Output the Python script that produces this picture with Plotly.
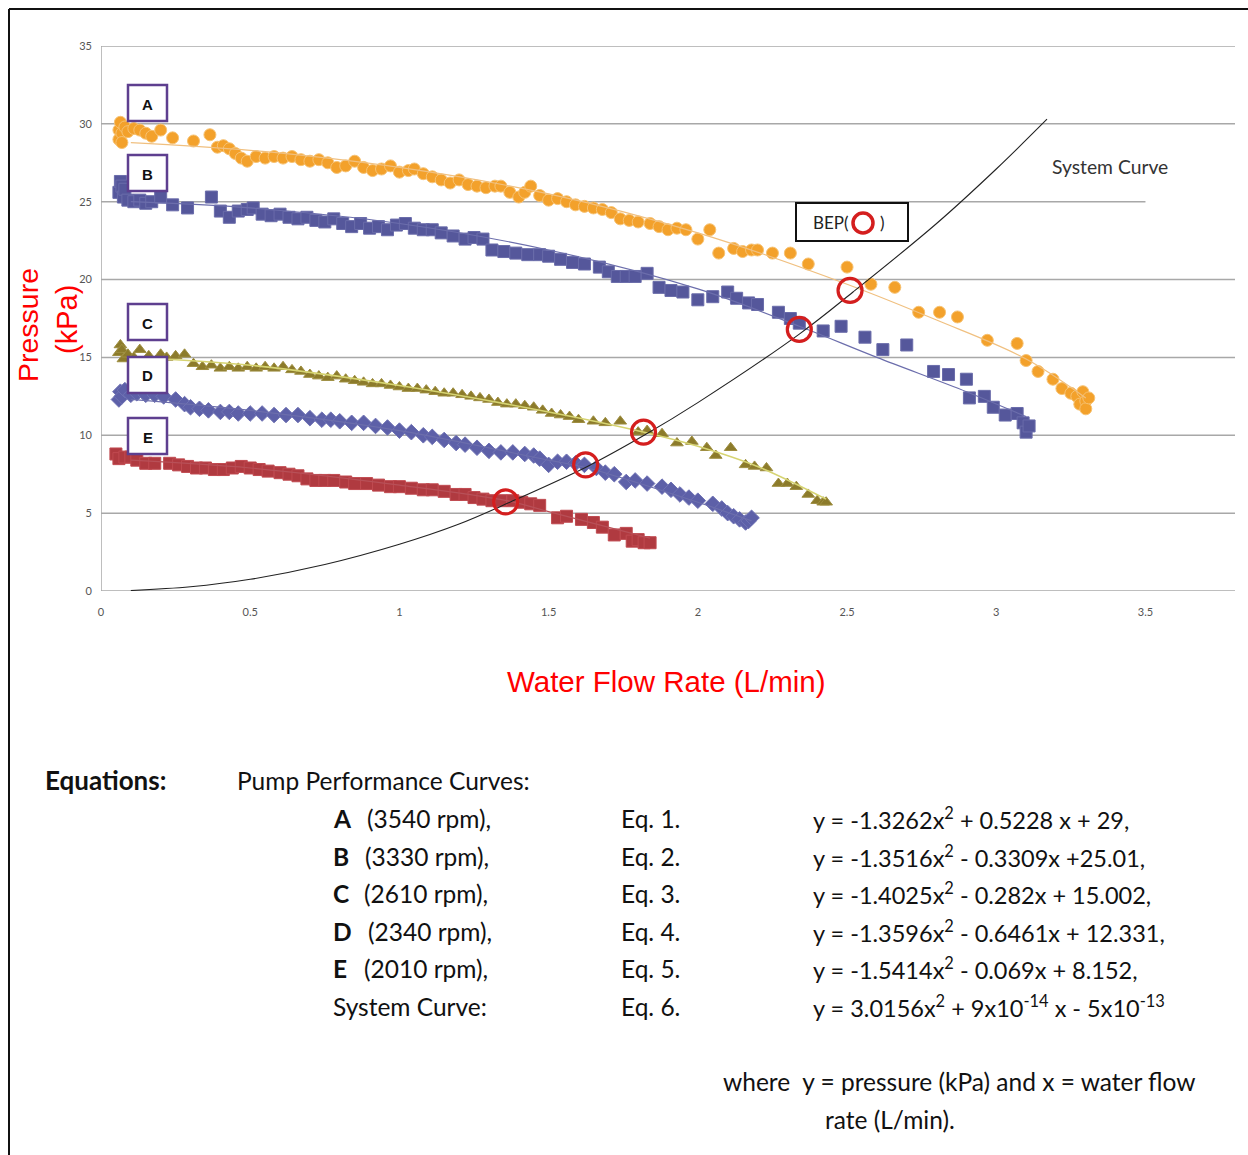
import plotly.graph_objects as go

# ---------------- data ----------------
A_points = [(0.06,29.0),(0.06,29.6),(0.065,30.1),(0.07,29.4),(0.07,28.8),(0.08,29.8),(0.09,29.5),(0.11,29.7),
            (0.13,29.6),(0.15,29.4),(0.17,29.2),(0.20,29.6),(0.24,29.1),(0.31,28.9),(0.365,29.3),
            (0.39,28.5),(0.41,28.6),(0.43,28.4),(0.45,28.1),(0.47,27.8),(0.49,27.6),(0.52,27.9),(0.55,27.8),
            (0.58,27.9),(0.61,27.8),(0.64,27.9),(0.67,27.7),(0.70,27.6),(0.73,27.7),(0.76,27.5),(0.79,27.2),
            (0.82,27.3),(0.85,27.6),(0.88,27.2),(0.91,27.0),(0.94,27.1),(0.97,27.3),(1.00,26.9),(1.03,27.0),
            (1.05,27.1),(1.08,26.8),(1.11,26.6),(1.14,26.4),(1.17,26.2),(1.20,26.4),(1.23,26.1),(1.26,26.0),
            (1.29,25.9),(1.32,26.0),(1.34,26.0),(1.37,25.6),(1.40,25.3),(1.42,25.6),(1.44,26.0),(1.47,25.4),
            (1.50,25.1),(1.53,25.2),(1.56,25.0),(1.59,24.8),(1.62,24.7),(1.65,24.6),(1.68,24.5),(1.71,24.3),
            (1.74,23.9),(1.77,23.8),(1.80,23.7),(1.84,23.6),(1.87,23.4),(1.90,23.2),(1.93,23.3),(1.96,23.2),
            (2.00,22.6),(2.04,23.2),(2.07,21.7),(2.12,22.0),(2.15,21.8),(2.18,21.9),(2.20,21.9),(2.25,21.7),
            (2.31,21.7),(2.37,21.0),(2.50,20.8),(2.58,19.7),(2.66,19.5),(2.74,17.9),(2.81,17.9),(2.87,17.6),
            (2.97,16.1),(3.07,15.9),(3.10,14.8),(3.14,14.1),(3.19,13.6),(3.22,13.0),(3.25,12.7),(3.27,12.5),
            (3.28,12.0),(3.29,12.8),(3.30,12.2),(3.30,11.7),(3.31,12.4)]

B_points = [(0.06,25.6),(0.065,26.3),(0.07,26.0),(0.075,25.3),(0.08,25.8),(0.09,25.1),(0.11,25.0),(0.13,25.1),
            (0.15,24.9),(0.17,25.0),(0.20,25.3),(0.24,24.8),(0.29,24.6),(0.37,25.3),(0.40,24.4),(0.43,24.0),
            (0.46,24.4),(0.49,24.5),(0.51,24.6),(0.54,24.2),(0.57,24.1),(0.60,24.2),(0.63,24.0),(0.66,23.9),
            (0.69,24.0),(0.72,23.8),(0.75,23.7),(0.78,23.9),(0.81,23.6),(0.84,23.4),(0.87,23.6),(0.90,23.3),
            (0.93,23.4),(0.96,23.2),(0.99,23.5),(1.02,23.6),(1.05,23.3),(1.08,23.2),(1.11,23.2),(1.14,23.0),
            (1.18,22.8),(1.22,22.6),(1.25,22.7),(1.28,22.6),(1.31,21.9),(1.35,21.8),(1.39,21.7),(1.43,21.6),
            (1.47,21.6),(1.50,21.5),(1.54,21.3),(1.58,21.1),(1.62,21.0),(1.67,20.8),(1.70,20.5),(1.73,20.2),
            (1.76,20.2),(1.79,20.2),(1.83,20.4),(1.87,19.5),(1.91,19.3),(1.95,19.2),(2.00,18.7),(2.05,18.9),
            (2.10,19.2),(2.13,18.8),(2.17,18.5),(2.20,18.4),(2.27,17.9),(2.31,17.5),(2.34,17.2),(2.42,16.7),
            (2.48,17.0),(2.56,16.3),(2.62,15.5),(2.70,15.8),(2.79,14.1),(2.84,13.9),(2.90,13.6),(2.91,12.4),
            (2.96,12.5),(2.99,11.8),(3.03,11.3),(3.07,11.4),(3.09,10.8),(3.10,10.2),(3.11,10.6)]

C_points = [(0.06,15.3),(0.065,15.8),(0.07,15.5),(0.075,14.9),(0.09,15.2),(0.11,15.0),(0.13,15.5),(0.16,15.1),
            (0.20,15.2),(0.22,15.0),(0.25,15.1),(0.28,15.2),(0.31,14.6),(0.34,14.4),(0.37,14.5),(0.40,14.3),
            (0.43,14.4),(0.46,14.3),(0.49,14.4),(0.52,14.3),(0.55,14.4),(0.58,14.3),(0.61,14.4),(0.64,14.2),
            (0.67,14.1),(0.70,13.9),(0.73,13.8),(0.76,13.7),(0.79,13.8),(0.82,13.6),(0.85,13.5),(0.88,13.4),
            (0.91,13.3),(0.94,13.3),(0.97,13.2),(1.00,13.1),(1.03,13.0),(1.06,13.0),(1.09,12.9),(1.12,12.8),
            (1.15,12.7),(1.18,12.7),(1.21,12.6),(1.24,12.5),(1.27,12.4),(1.30,12.3),(1.33,12.1),(1.36,12.0),
            (1.39,12.0),(1.42,11.9),(1.45,11.8),(1.48,11.6),(1.51,11.4),(1.54,11.3),(1.57,11.2),(1.60,11.0),
            (1.65,10.9),(1.69,10.8),(1.74,10.9),(1.80,10.2),(1.83,10.3),(1.88,10.1),(1.93,9.5),(1.98,9.6),
            (2.03,9.2),(2.06,8.7),(2.11,9.2),(2.16,8.1),(2.19,8.0),(2.23,7.9),(2.27,6.9),(2.30,6.9),
            (2.33,6.7),(2.37,6.2),(2.40,5.8),(2.42,5.7),(2.43,5.7)]

D_points = [(0.06,12.3),(0.065,12.8),(0.07,12.5),(0.08,12.9),(0.10,12.6),(0.12,12.7),(0.15,12.6),(0.18,12.6),
            (0.21,12.5),(0.25,12.3),(0.28,12.0),(0.30,11.8),(0.33,11.7),(0.36,11.6),(0.40,11.5),(0.43,11.5),
            (0.46,11.4),(0.50,11.4),(0.54,11.4),(0.58,11.3),(0.62,11.3),(0.66,11.3),(0.70,11.1),(0.74,11.0),
            (0.77,11.0),(0.80,10.9),(0.84,10.8),(0.88,10.8),(0.92,10.6),(0.96,10.5),(1.00,10.3),(1.04,10.2),
            (1.08,10.0),(1.11,9.9),(1.15,9.7),(1.19,9.5),(1.22,9.4),(1.26,9.2),(1.30,9.0),(1.34,8.9),
            (1.38,8.9),(1.42,8.8),(1.45,8.7),(1.47,8.5),(1.50,8.1),(1.53,8.3),(1.56,8.3),(1.59,8.2),
            (1.62,8.1),(1.66,7.9),(1.69,7.6),(1.72,7.5),(1.76,7.0),(1.79,7.1),(1.83,6.9),(1.88,6.7),
            (1.91,6.5),(1.94,6.2),(1.97,6.0),(2.00,5.8),(2.05,5.6),(2.08,5.3),(2.10,5.0),(2.12,4.8),
            (2.14,4.6),(2.16,4.4),(2.17,4.5),(2.18,4.7)]

E_points = [(0.05,8.8),(0.06,8.5),(0.08,8.6),(0.10,8.6),(0.12,8.4),(0.15,8.2),(0.18,8.2),(0.23,8.2),
            (0.26,8.1),(0.29,8.0),(0.32,7.9),(0.35,7.9),(0.38,7.8),(0.41,7.8),(0.44,7.9),(0.47,8.0),
            (0.50,7.9),(0.53,7.8),(0.56,7.7),(0.60,7.6),(0.63,7.5),(0.66,7.4),(0.69,7.2),(0.72,7.1),
            (0.75,7.1),(0.78,7.1),(0.82,7.0),(0.85,6.9),(0.89,6.9),(0.93,6.8),(0.97,6.7),(1.00,6.7),
            (1.04,6.6),(1.08,6.5),(1.11,6.5),(1.15,6.4),(1.19,6.2),(1.22,6.2),(1.25,6.0),(1.28,5.9),
            (1.31,5.8),(1.34,5.8),(1.38,5.8),(1.41,5.7),(1.44,5.6),(1.47,5.5),(1.53,4.7),(1.56,4.8),
            (1.61,4.6),(1.65,4.4),(1.68,4.1),(1.72,3.6),(1.76,3.7),(1.78,3.2),(1.80,3.3),(1.82,3.1),(1.84,3.1)]

A_trend_x = [0.1, 0.5, 1.0, 1.5, 2.0, 2.5, 2.8, 3.1, 3.3]
A_trend_y = [28.8, 28.3, 27.2, 25.5, 23.0, 19.7, 17.4, 14.9, 12.4]
B_trend_x = [0.1, 0.5, 1.0, 1.5, 2.0, 2.34, 2.6, 2.9, 3.1]
B_trend_y = [25.0, 24.6, 23.6, 21.9, 19.4, 17.0, 15.0, 12.8, 11.2]
C_trend_x = [0.1, 0.5, 1.0, 1.5, 1.82, 2.0, 2.2, 2.43]
C_trend_y = [15.0, 14.5, 13.2, 11.5, 10.2, 9.3, 8.0, 5.9]
D_trend_x = [0.1, 0.5, 1.0, 1.5, 1.63, 2.0, 2.18]
D_trend_y = [12.3, 11.6, 10.3, 8.4, 7.9, 5.7, 4.5]
E_trend_x = [0.1, 0.5, 1.0, 1.36, 1.5, 1.84]
E_trend_y = [8.4, 7.9, 6.8, 5.8, 5.1, 3.4]

system_x = [0.1, 0.3, 0.5, 0.75, 1.0, 1.2, 1.37, 1.63, 1.82, 2.0, 2.34, 2.52, 2.8, 3.0, 3.17]
system_y = [0.03, 0.27, 0.75, 1.7, 3.0, 4.3, 5.7, 8.0, 10.0, 12.1, 16.5, 19.2, 23.6, 27.1, 30.3]

bep_x = [1.356, 1.624, 1.818, 2.34, 2.51]
bep_y = [5.72, 8.1, 10.2, 16.8, 19.3]

x_ticks = [0, 0.5, 1, 1.5, 2, 2.5, 3, 3.5]
x_ticklabels = ["0", "0.5", "1", "1.5", "2", "2.5", "3", "3.5"]
y_ticks = [0, 5, 10, 15, 20, 25, 30, 35]

curve_labels = ["A", "B", "C", "D", "E"]
rpm_labels = ["(3540 rpm),", "(3330 rpm),", "(2610 rpm),", "(2340 rpm),", "(2010 rpm),"]
eq_labels = ["Eq. 1.", "Eq. 2.", "Eq. 3.", "Eq. 4.", "Eq. 5.", "Eq. 6."]
equations = ["y = -1.3262x<sup>2</sup> + 0.5228 x + 29,",
             "y = -1.3516x<sup>2</sup> - 0.3309x +25.01,",
             "y = -1.4025x<sup>2</sup> - 0.282x + 15.002,",
             "y = -1.3596x<sup>2</sup> - 0.6461x + 12.331,",
             "y = -1.5414x<sup>2</sup> - 0.069x + 8.152,",
             "y = 3.0156x<sup>2</sup> + 9x10<sup>-14</sup> x - 5x10<sup>-13</sup>"]

# ---------------- layout helpers (pixel -> paper) ----------------
W, H = 1248, 1155
L, R, T, B = 101, 1235, 46, 591


def px(x):
    return (x - L) / (R - L)


def py(y):
    return (B - y) / (B - T)


fig = go.Figure()

series = [
    (A_points, "circle", 12, "#F3A12B", "#F7C272"),
    (B_points, "square", 12, "#55579B", "#6A6CAA"),
    (C_points, "triangle-up", 11, "#8C7B2B", "#9E8E40"),
    (D_points, "diamond", 12, "#5D60A8", "#6F72B4"),
    (E_points, "square", 12, "#B03A40", "#C04A50"),
]
for pts, sym, size, col, edge in series:
    fig.add_trace(go.Scatter(x=[p[0] for p in pts], y=[p[1] for p in pts], mode="markers",
                             marker=dict(symbol=sym, size=size, color=col, line=dict(color=edge, width=1)),
                             showlegend=False, hoverinfo="skip"))

trends = [(A_trend_x, A_trend_y, "#F0C080", 1.2), (B_trend_x, B_trend_y, "#6C6EAC", 1.2),
          (C_trend_x, C_trend_y, "#D6D472", 1.6), (D_trend_x, D_trend_y, "#6C6EAC", 1.2),
          (E_trend_x, E_trend_y, "#B85058", 1.2)]
for tx, ty, col, w in trends:
    fig.add_trace(go.Scatter(x=tx, y=ty, mode="lines", line=dict(color=col, width=w, shape="spline"),
                             showlegend=False, hoverinfo="skip"))

fig.add_trace(go.Scatter(x=system_x, y=system_y, mode="lines",
                         line=dict(color="#222222", width=1.1, shape="spline"),
                         showlegend=False, hoverinfo="skip"))

fig.add_trace(go.Scatter(x=bep_x, y=bep_y, mode="markers",
                         marker=dict(symbol="circle-open", size=24, color="#D41E1E", line=dict(width=3.2)),
                         showlegend=False, hoverinfo="skip"))

shapes = []
# grid lines
grid_end = {25: 3.5}
for yv in y_ticks[1:]:
    shapes.append(dict(type="line", xref="x", yref="y", x0=0, x1=grid_end.get(yv, 3.8), y0=yv, y1=yv,
                       line=dict(color="#A8A8A8", width=1.5), layer="below"))
# axes lines
shapes.append(dict(type="line", xref="x", yref="y", x0=0, x1=3.8, y0=0, y1=0,
                   line=dict(color="#A8A8A8", width=1.5), layer="below"))
shapes.append(dict(type="line", xref="x", yref="y", x0=0, x1=0, y0=0, y1=35,
                   line=dict(color="#A8A8A8", width=1.5), layer="below"))

# label boxes
box_tops = [85, 155, 304, 357, 418]
for top in box_tops:
    shapes.append(dict(type="rect", xref="paper", yref="paper", x0=px(128), x1=px(167),
                       y0=py(top + 36), y1=py(top), line=dict(color="#5E3F8F", width=2.5),
                       fillcolor="white", layer="above"))
# BEP box
shapes.append(dict(type="rect", xref="paper", yref="paper", x0=px(796), x1=px(908), y0=py(241), y1=py(203),
                   line=dict(color="#111111", width=2), fillcolor="white"))
shapes.append(dict(type="circle", xref="paper", yref="paper", x0=px(853), x1=px(873), y0=py(233), y1=py(213),
                   line=dict(color="#D41E1E", width=3.5)))
# outer frame
shapes.append(dict(type="line", xref="paper", yref="paper", x0=px(9), x1=px(9), y0=py(9), y1=py(1160),
                   line=dict(color="#111111", width=2)))
shapes.append(dict(type="line", xref="paper", yref="paper", x0=px(9), x1=px(1250), y0=py(9), y1=py(9),
                   line=dict(color="#111111", width=2)))

ann = []


def text(x, y, s, size=24.5, color="#111111", bold=False, xanchor="left", family="Lato", angle=0):
    ann.append(dict(xref="paper", yref="paper", x=px(x), y=py(y), text=("<b>%s</b>" % s) if bold else s,
                    showarrow=False, xanchor=xanchor, yanchor="middle", textangle=angle,
                    font=dict(size=size, color=color, family=family)))


for lab, top in zip(curve_labels, box_tops):
    text(147.5, top + 19, lab, size=15, bold=True, xanchor="center", family="Arial")

text(811, 223, "BEP(", size=17, color="#222222", family="Lato")
text(878, 223, ")", size=17, color="#222222", family="Lato")
text(1050, 167, "System Curve", size=19.3, color="#333333", family="Lato")

text(28, 325, "Pressure", size=28.5, color="#FF0000", xanchor="center", family="Arial", angle=-90)
text(67, 320, "(kPa)", size=29, color="#FF0000", xanchor="center", family="Arial", angle=-90)
text(666, 681, "Water Flow Rate (L/min)", size=29.5, color="#FF0000", xanchor="center", family="Arial")

text(43, 780, "Equations:", size=26, bold=True)
text(235, 780, "Pump Performance Curves:", size=24.5)
row_y = [818, 856, 893, 931, 968, 1006]
rpm_x = [365, 363, 362, 366, 362]
for i in range(5):
    text(331, row_y[i], curve_labels[i], size=24.5, bold=True)
    text(rpm_x[i], row_y[i], rpm_labels[i], size=24.5)
text(331, row_y[5], "System Curve:", size=24.5)
for i in range(6):
    text(619, row_y[i], eq_labels[i], size=24.5)
    text(811, row_y[i], equations[i], size=23.5)
text(721, 1081, "where  y = pressure (kPa) and x = water flow", size=24.5)
text(823, 1119, "rate (L/min).", size=24.5)

fig.update_layout(
    width=W, height=H, margin=dict(l=L, r=W - R, t=T, b=H - B),
    paper_bgcolor="white", plot_bgcolor="white",
    shapes=shapes, annotations=ann, showlegend=False,
    xaxis=dict(range=[0, 3.8], tickvals=x_ticks, ticktext=x_ticklabels, showgrid=False, zeroline=False,
               showline=False, ticks="", ticklabelstandoff=13, tickfont=dict(size=11, color="#555555", family="Lato")),
    yaxis=dict(range=[0, 35], tickvals=y_ticks, showgrid=False, zeroline=False, showline=False, ticks="",
               ticklabelstandoff=8, tickfont=dict(size=11, color="#555555", family="Lato")),
)

fig.write_html("out.html", config={"displayModeBar": False},
               post_script="document.body.style.margin='0px';")
